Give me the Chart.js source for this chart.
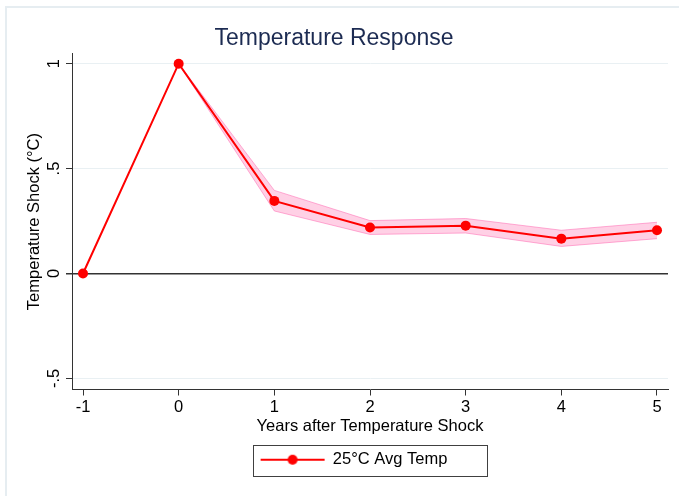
<!DOCTYPE html>
<html>
<head>
<meta charset="utf-8">
<script src="https://cdn.jsdelivr.net/npm/chart.js@4"></script>
<style>
  html, body { margin: 0; padding: 0; background: #fff; }
  canvas { display: block; }
</style>
</head>
<body>
<canvas id="chart" width="679" height="496"></canvas>
<script>
// values
const years = [-1, 0, 1, 2, 3, 4, 5];
const response = [0, 1, 0.346, 0.219, 0.228, 0.166, 0.206];
const ciUpper = [null, 1, 0.396, 0.252, 0.262, 0.206, 0.244];
const ciLower = [null, 1, 0.298, 0.186, 0.193, 0.129, 0.166];
const xTicks = [-1, 0, 1, 2, 3, 4, 5];
const yTicks = [-0.5, 0, 0.5, 1];

const RED = "#ff0000";
const FONT = "'Liberation Sans', Arial, Helvetica, sans-serif";

function toPoints(ys) {
  return years
    .map((x, i) => ({ x: x, y: ys[i] }))
    .filter((p) => p.y !== null);
}

// legend symbol: line with a dot
const legendSymbol = document.createElement("canvas");
legendSymbol.width = 66;
legendSymbol.height = 12;
(function () {
  const c = legendSymbol.getContext("2d");
  c.strokeStyle = RED;
  c.lineWidth = 2;
  c.beginPath();
  c.moveTo(1, 6);
  c.lineTo(65, 6);
  c.stroke();
  c.fillStyle = RED;
  c.beginPath();
  c.arc(33, 6, 5, 0, Math.PI * 2);
  c.fill();
})();

function stataLabel(v) {
  if (v === 0) return "0";
  let s = String(v);
  return s.replace(/^(-?)0\./, "$1.");
}

const frame = {
  id: "frame",
  beforeDraw(chart) {
    const ctx = chart.ctx;
    ctx.save();
    ctx.fillStyle = "#ffffff";
    ctx.fillRect(0, 0, chart.width, chart.height);
    ctx.strokeStyle = "#e6edf1";
    ctx.lineWidth = 2;
    ctx.beginPath();
    ctx.moveTo(6, chart.height);
    ctx.lineTo(6, 7);
    ctx.lineTo(chart.width, 7);
    ctx.stroke();
    ctx.restore();
  },
  afterDraw(chart) {
    const lg = chart.legend;
    if (!lg || !lg.legendHitBoxes || !lg.legendHitBoxes.length) return;
    const hb = lg.legendHitBoxes[0];
    const ctx = chart.ctx;
    ctx.save();
    ctx.strokeStyle = "#404040";
    ctx.lineWidth = 1;
    ctx.strokeRect(
      Math.round(hb.left - 8) + 0.5,
      Math.round(hb.top - 7) + 0.5,
      Math.round(hb.width + 15),
      Math.round(hb.height + 14)
    );
    ctx.restore();
  },
};

new Chart(document.getElementById("chart").getContext("2d"), {
  type: "line",
  data: {
    datasets: [
      {
        label: "25°C Avg Temp",
        data: toPoints(response),
        borderColor: RED,
        backgroundColor: RED,
        borderWidth: 2,
        pointRadius: 5,
        pointBorderWidth: 0,
        pointBackgroundColor: RED,
        pointStyle: "circle",
        fill: false,
        tension: 0,
      },
      {
        label: "upper",
        data: toPoints(ciUpper),
        borderColor: "rgba(255,110,180,0.55)",
        borderWidth: 1,
        pointRadius: 0,
        fill: false,
        tension: 0,
      },
      {
        label: "lower",
        data: toPoints(ciLower),
        borderColor: "rgba(255,110,180,0.55)",
        backgroundColor: "rgba(255,100,170,0.3)",
        borderWidth: 1,
        pointRadius: 0,
        fill: "-1",
        tension: 0,
      },
    ],
  },
  options: {
    responsive: false,
    animation: false,
    devicePixelRatio: 1,
    layout: { padding: { left: 0, right: 11, top: 0, bottom: 18 } },
    plugins: {
      title: {
        display: true,
        text: "Temperature Response",
        color: "#1c2b52",
        font: { family: FONT, size: 23, weight: "normal" },
        padding: { top: 25, bottom: 1 },
      },
      legend: {
        display: true,
        position: "bottom",
        fullSize: false,
        labels: {
          filter: (item) => item.datasetIndex === 0,
          generateLabels: (chart) => [
            {
              text: chart.data.datasets[0].label + "       ",
              pointStyle: legendSymbol,
              fillStyle: RED,
              strokeStyle: RED,
              lineWidth: 0,
              datasetIndex: 0,
              fontColor: "#000",
            },
          ],
          usePointStyle: true,
          pointStyleWidth: 64,
          padding: 10,
          color: "#000",
          font: { family: FONT, size: 16.5 },
        },
      },
      tooltip: { enabled: false },
    },
    scales: {
      x: {
        type: "linear",
        min: -1.115,
        max: 5.115,
        afterBuildTicks: (s) => {
          s.ticks = xTicks.map((v) => ({ value: v }));
        },
        afterFit: (s) => {
          s.height = 52;
        },
        ticks: {
          color: "#000",
          padding: 2,
          maxRotation: 0,
          font: { family: FONT, size: 16.5 },
          callback: (v) => String(v),
        },
        grid: {
          drawOnChartArea: false,
          drawTicks: true,
          tickLength: 6,
          tickColor: "#333",
        },
        border: { color: "#333", width: 1 },
        title: {
          display: true,
          text: "Years after Temperature Shock",
          color: "#000",
          font: { family: FONT, size: 16.5 },
          padding: { top: 0, bottom: 5 },
        },
      },
      y: {
        type: "linear",
        min: -0.553,
        max: 1.048,
        afterBuildTicks: (s) => {
          s.ticks = yTicks.map((v) => ({ value: v }));
        },
        afterFit: (s) => {
          s.width = 72;
        },
        ticks: {
          color: "#000",
          padding: 2,
          minRotation: 90,
          maxRotation: 90,
          crossAlign: "center",
          font: { family: FONT, size: 16.5 },
          callback: (v) => stataLabel(v),
        },
        grid: {
          drawTicks: true,
          tickLength: 6,
          tickColor: "#333",
          color: (c) => (c.tick && c.tick.value === 0 ? "#333" : "#e9f0f3"),
          lineWidth: (c) => (c.tick && c.tick.value === 0 ? 1.5 : 1),
        },
        border: { color: "#333", width: 1 },
        title: {
          display: true,
          text: "Temperature Shock (°C)",
          color: "#000",
          font: { family: FONT, size: 16.5 },
          padding: { top: 25, bottom: 0 },
        },
      },
    },
  },
  plugins: [frame],
});
</script>
</body>
</html>
